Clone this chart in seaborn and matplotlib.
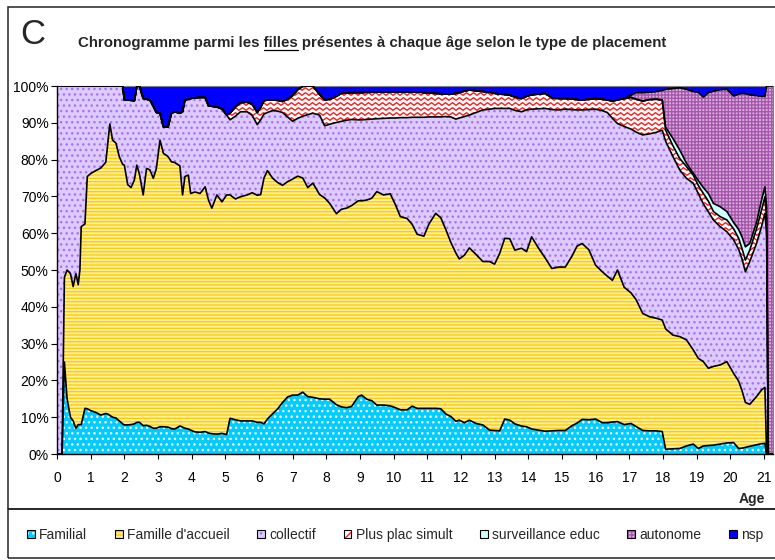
import numpy as np
import matplotlib
matplotlib.use("Agg")
import matplotlib.pyplot as plt
import seaborn as sns
from matplotlib.patches import Patch, Rectangle
from matplotlib.collections import LineCollection
from matplotlib.legend_handler import HandlerTuple
from matplotlib.lines import Line2D

# Data: age in years and the cumulative top (%) of each stacked layer
age = np.array([
    0.0, 0.15, 0.22, 0.3, 0.4, 0.48, 0.56, 0.63, 0.68, 0.72,
    0.83, 0.9, 1.0, 1.15, 1.3, 1.45, 1.52, 1.57, 1.65, 1.75,
    1.85, 1.95, 2.0, 2.1, 2.2, 2.3, 2.37, 2.45, 2.56, 2.66,
    2.76, 2.86, 2.95, 3.06, 3.16, 3.3, 3.4, 3.5, 3.65, 3.73,
    3.8, 3.9, 3.97, 4.1, 4.25, 4.4, 4.5, 4.6, 4.75, 4.9,
    5.04, 5.14, 5.3, 5.45, 5.65, 5.8, 5.95, 6.05, 6.15, 6.25,
    6.4, 6.55, 6.7, 6.85, 7.0, 7.15, 7.3, 7.45, 7.6, 7.8,
    7.95, 8.1, 8.3, 8.45, 8.6, 8.75, 8.95, 9.05, 9.2, 9.35,
    9.5, 9.7, 9.9, 10.05, 10.2, 10.4, 10.55, 10.7, 10.9, 11.05,
    11.25, 11.4, 11.55, 11.7, 11.85, 11.95, 12.1, 12.25, 12.45, 12.65,
    12.85, 13.0, 13.15, 13.3, 13.45, 13.6, 13.8, 13.95, 14.1, 14.3,
    14.5, 14.7, 14.9, 15.1, 15.3, 15.45, 15.6, 15.8, 16.0, 16.2,
    16.35, 16.5, 16.65, 16.85, 17.05, 17.2, 17.4, 17.6, 17.8, 17.98,
    18.08, 18.3, 18.5, 18.7, 18.9, 19.05, 19.2, 19.35, 19.5, 19.7,
    19.9, 20.1, 20.25, 20.35, 20.45, 20.58, 20.78, 20.93, 21.03, 21.08,
    21.13, 21.27,
])

top_familial = np.array([
    0, 0, 25, 15, 10, 9, 7, 8, 8, 8,
    12.4, 12.3, 11.8, 11.3, 10.6, 11.0, 10.8, 10.5, 10.0, 9.8,
    9.0, 8.2, 7.9, 7.9, 8.0, 8.2, 8.6, 8.6, 7.7, 7.8,
    7.5, 7.0, 7.0, 7.4, 7.4, 7.3, 6.9, 6.8, 7.6, 7.3,
    7.0, 6.8, 6.5, 6.0, 5.9, 6.1, 5.7, 5.5, 5.4, 5.6,
    5.3, 9.7, 9.3, 9.0, 9.0, 9.0, 8.6, 8.6, 8.2, 9.5,
    10.9, 12.2, 14.0, 15.5, 16.0, 16.0, 16.8, 15.6, 15.4, 15.0,
    14.9, 14.9, 13.4, 12.8, 12.6, 12.9, 15.6, 16.0, 14.9, 14.5,
    13.3, 13.3, 13.1, 12.6, 12.0, 12.0, 13.0, 12.4, 12.4, 12.4,
    12.4, 12.3, 10.9, 10.2, 8.9, 9.2, 8.5, 9.2, 8.3, 7.9,
    6.5, 6.4, 6.3, 9.5, 9.2, 8.2, 7.6, 7.4, 6.8, 6.5,
    6.2, 6.3, 6.4, 6.4, 7.7, 8.4, 9.4, 9.3, 9.5, 8.5,
    8.5, 8.7, 8.8, 8.0, 8.3, 7.5, 6.4, 6.3, 6.3, 6.1,
    1.3, 1.4, 1.5, 2.2, 2.7, 1.5, 2.2, 2.3, 2.4, 2.7,
    3.0, 3.1, 1.5, 1.6, 1.8, 2.1, 2.5, 2.8, 2.9, 0,
    0, 0,
])

top_accueil = np.array([
    0, 0, 48, 50, 49, 45.5, 49, 46, 50, 61.8,
    62.5, 75.4, 76.2, 77.0, 77.7, 79.3, 85.3, 89.7, 85.3, 84.5,
    80.8, 78.7, 78.5, 73.2, 72.4, 74.5, 78.5, 76.0, 70.4, 77.6,
    77.2, 74.9, 77.5, 85.3, 81.7, 80.8, 79.4, 79.2, 78.3, 70.4,
    75.4, 75.8, 70.8, 71.2, 70.8, 72.6, 69.0, 66.8, 70.4, 68.5,
    70.4, 70.4, 69.3, 69.9, 70.4, 71.0, 70.3, 70.5, 75.0, 77.0,
    75.0, 73.8, 73.0, 74.0, 74.7, 75.5, 75.0, 72.4, 73.6, 70.5,
    69.6, 68.1, 65.3, 66.5, 66.8, 67.5, 68.8, 68.8, 69.0, 69.5,
    71.3, 70.4, 70.7, 67.8, 64.5, 64.0, 62.4, 59.7, 59.2, 62.5,
    65.4, 64.2, 61.0, 57.5, 54.6, 53.0, 54.0, 56.0, 54.2, 52.3,
    52.3, 51.6, 54.5, 58.6, 58.5, 55.4, 55.9, 55.0, 59.0, 56.0,
    53.3, 50.4, 50.8, 50.8, 53.8, 56.5, 57.2, 55.5, 51.3, 49.5,
    48.3, 47.2, 50.0, 45.3, 43.8, 42.0, 38.2, 37.3, 36.9, 36.4,
    34.0, 32.3, 31.9, 31.0, 28.3, 26.0, 25.1, 23.3, 23.8, 24.2,
    25.1, 21.9, 19.8, 17.2, 14.0, 13.5, 15.6, 17.4, 18.1, 0,
    0, 0,
])

top_collectif = np.array([
    100, 100, 100, 100, 100, 100, 100, 100, 100, 100,
    100, 100, 100, 100, 100, 100, 100, 100, 100, 100,
    100, 100, 96.2, 96.2, 96.1, 96.0, 99.8, 100, 96.6, 96.4,
    96.2, 94.5, 92.8, 92.6, 88.9, 88.9, 92.6, 93.0, 92.6, 93.0,
    96.2, 96.4, 96.6, 96.8, 96.9, 96.9, 94.6, 94.5, 94.3, 93.8,
    92.1, 90.8, 91.8, 93.0, 93.0, 92.0, 89.5, 90.8, 92.4, 92.8,
    93.3, 93.2, 92.8, 91.6, 90.4, 91.2, 91.8, 92.2, 92.6, 92.1,
    89.2, 89.6, 90.1, 90.4, 90.7, 90.9, 90.8, 90.8, 90.9, 91.0,
    91.1, 91.2, 91.3, 91.3, 91.4, 91.4, 91.5, 91.5, 91.5, 91.6,
    91.6, 91.6, 91.7, 91.6, 91.0, 91.3, 91.7, 92.1, 92.8, 93.5,
    93.7, 93.9, 93.9, 93.9, 93.9, 93.4, 93.0, 93.5, 93.7, 93.8,
    93.9, 93.6, 93.5, 93.7, 93.6, 93.5, 93.5, 93.6, 93.7, 93.3,
    92.8, 91.2, 89.8, 89.0, 88.3, 87.5, 86.7, 87.0, 87.4, 88.0,
    85.0, 80.8, 77.2, 74.9, 73.6, 70.8, 68.0, 65.8, 63.6, 61.8,
    60.4, 58.2, 55.6, 53.0, 49.5, 52.3, 57.2, 61.8, 65.4, 60.0,
    0, 0,
])

# no "Plus plac simult" before age 5: its top equals the collectif top there
top_plusplac = np.concatenate([top_collectif[:50], [
    92.1, 92.6, 94.3, 95.5, 95.6, 95.0, 92.8, 94.2, 96.0, 96.2,
    96.2, 96.1, 95.8, 96.4, 97.4, 99.0, 99.9, 100, 100, 97.7,
    96.2, 96.4, 97.2, 98.0, 98.1, 98.2, 98.2, 98.2, 98.3, 98.3,
    98.4, 98.4, 98.4, 98.4, 98.4, 98.4, 98.4, 98.4, 98.2, 98.1,
    98.0, 97.9, 97.8, 97.8, 98.0, 98.2, 98.6, 98.9, 98.7, 98.5,
    98.3, 98.0, 97.8, 97.7, 97.5, 97.0, 96.6, 97.2, 97.6, 97.8,
    98.0, 96.8, 96.6, 96.6, 96.5, 96.3, 96.2, 96.4, 96.6, 96.4,
    96.2, 95.9, 96.2, 96.6, 96.9, 96.4, 95.9, 96.3, 96.4, 96.2,
    88.0, 83.7, 80.3, 78.1, 75.8, 73.0, 70.8, 68.7, 65.9, 64.5,
    63.6, 61.2, 58.6, 55.8, 52.7, 55.4, 61.2, 66.3, 69.9, 64.0,
    0, 0,
]])

# "surveillance educ" only appears after 18
top_surveil = np.concatenate([top_plusplac[:130], [
    88.8, 85.7, 82.6, 79.0, 76.3, 74.3, 72.4, 70.8, 68.1, 67.2,
    65.9, 62.9, 61.0, 59.0, 56.3, 57.2, 62.9, 69.0, 72.6, 67.0,
    0, 0,
]])

# "autonome" only appears after 17
top_autonome = np.concatenate([top_surveil[:120], [
    96.2, 95.9, 96.2, 96.6, 97.5, 98.2, 98.2, 98.3, 98.5, 98.8,
    99.1, 99.3, 99.5, 99.1, 98.5, 98.3, 97.0, 98.2, 98.6, 99.0,
    99.1, 97.3, 97.8, 98.0, 97.9, 97.6, 97.4, 97.2, 97.2, 100,
    100, 100,
]])

series = ["Familial", "Famille d'accueil", "collectif", "Plus plac simult",
          "surveillance educ", "autonome", "nsp"]

sns.set_style("white")
plt.rcParams["font.family"] = ["Liberation Sans", "DejaVu Sans"]
plt.rcParams["hatch.linewidth"] = 1.0

W, H = 775, 560
fig = plt.figure(figsize=(W / 100, H / 100), dpi=100)
ax = fig.add_axes([57 / W, 1 - 454 / H, 716 / W, 368 / H])

# face colour, hatch colour, hatch for each layer
layer_styles = [
    ("#00CCFF", "white", "..."),
    ("#FFEFA6", "#FFCC00", "-----"),
    ("#DDCBFF", "#A972F0", "..."),
    ("white", "white", None),
    ("#CCFFFF", "#CCFFFF", None),
    ("#DDAEE0", "#A458AA", "+++++"),
    ("#0000FF", "#0000FF", None),
]

bounds = [np.zeros_like(age), top_familial, top_accueil, top_collectif,
          top_plusplac, top_surveil, top_autonome, np.full_like(age, 100.0)]

polys = []
for lo, hi, (fc, hc, hatch) in zip(bounds[:-1], bounds[1:], layer_styles):
    polys.append(ax.fill_between(age, lo, hi, facecolor=fc, edgecolor=hc,
                                 hatch=hatch, linewidth=0, zorder=1))

# red zigzag texture for "Plus plac simult", clipped to its band
pw, ph = 716, 368
zx = np.arange(0, pw + 8, 3.5)
rows = []
for y0 in np.arange(0, ph + 5, 5.0):
    zy = y0 + np.where(np.arange(zx.size) % 2 == 0, -1.3, 1.3)
    rows.append(np.column_stack([zx / pw, zy / ph]))
zig = LineCollection(rows, colors="#FF1A1A", linewidths=1.0,
                     transform=ax.transAxes, zorder=1.5)
ax.add_collection(zig, autolim=False)
zig.set_clip_path(polys[3].get_paths()[0], polys[3].get_transform())

# black outline along the top of each layer
for b in bounds[1:-1]:
    sns.lineplot(x=age, y=b, ax=ax, color="black", linewidth=1.2,
                 estimator=None, sort=False, legend=False, zorder=3)

ax.set_xlim(0, 21.27)
ax.set_ylim(0, 100)
ax.set_xticks(np.arange(0, 22))
ax.set_yticks(np.arange(0, 101, 10))
ax.set_yticklabels([f"{v}%" for v in range(0, 101, 10)])
ax.tick_params(axis="both", bottom=True, left=True, direction="out",
               colors="black", labelsize=10, width=0.8)
ax.tick_params(axis="x", length=3.5, pad=8.5)
ax.tick_params(axis="y", length=4, pad=2)
ax.set_xlabel("Age", fontsize=10, fontweight="bold", loc="right")
ax.xaxis.set_label_coords((765 - 57) / pw, (454 - 503) / ph)
ax.xaxis.label.set_va("baseline")
for s in ["left", "bottom"]:
    ax.spines[s].set_color("black")
    ax.spines[s].set_linewidth(1.0)
for s in ["top", "right"]:
    ax.spines[s].set_color("#808080")
    ax.spines[s].set_linewidth(0.8)

# outer frames (chart + legend box)
fig.add_artist(Rectangle((8 / W, 1 - 509 / H), 1.0, (509 - 7) / H,
                         transform=fig.transFigure, fill=False,
                         edgecolor="#222222", linewidth=1.1))
fig.add_artist(Rectangle((8 / W, 1 - 558 / H), 1.0, 49 / H,
                         transform=fig.transFigure, fill=False,
                         edgecolor="#222222", linewidth=1.1))

# panel letter and title with underlined "filles"
fig.text(20 / W, 1 - 34 / H, "C", fontsize=25, va="center", ha="left")
title = "Chronogramme parmi les filles présentes à chaque âge selon le type de placement"
tx, ty = 78 / W, 1 - 47 / H
tkw = dict(fontsize=10.8, fontweight="bold", va="baseline", ha="left")
fig.text(tx, ty, title, **tkw)
renderer = fig.canvas.get_renderer()


def text_width(s):
    t = fig.text(0, 0, s, **tkw)
    w = t.get_window_extent(renderer).width
    t.remove()
    return w


x1 = tx * W + text_width("Chronogramme parmi les filles")
x0 = x1 - text_width("filles")
fig.add_artist(Line2D([x0 / W, x1 / W], [1 - 49.5 / H] * 2,
                      transform=fig.transFigure, color="black", linewidth=0.9))

# legend
handles = []
for i, (fc, hc, hatch) in enumerate(layer_styles):
    if i == 3:
        fc, hc, hatch = "white", "#FF1A1A", "////"
    handles.append((Patch(facecolor=fc, edgecolor=hc, hatch=hatch, linewidth=0),
                    Patch(facecolor="none", edgecolor="black", linewidth=0.8)))
fig.legend(handles, series, handler_map={tuple: HandlerTuple(ndivide=1, pad=0)},
           loc="center", bbox_to_anchor=(0.51, 1 - 535 / H), ncol=7,
           frameon=False, fontsize=10, handlelength=0.55, handleheight=0.55,
           handletextpad=0.3, columnspacing=2.0, borderaxespad=0)

fig.savefig("out.png", dpi=100)
